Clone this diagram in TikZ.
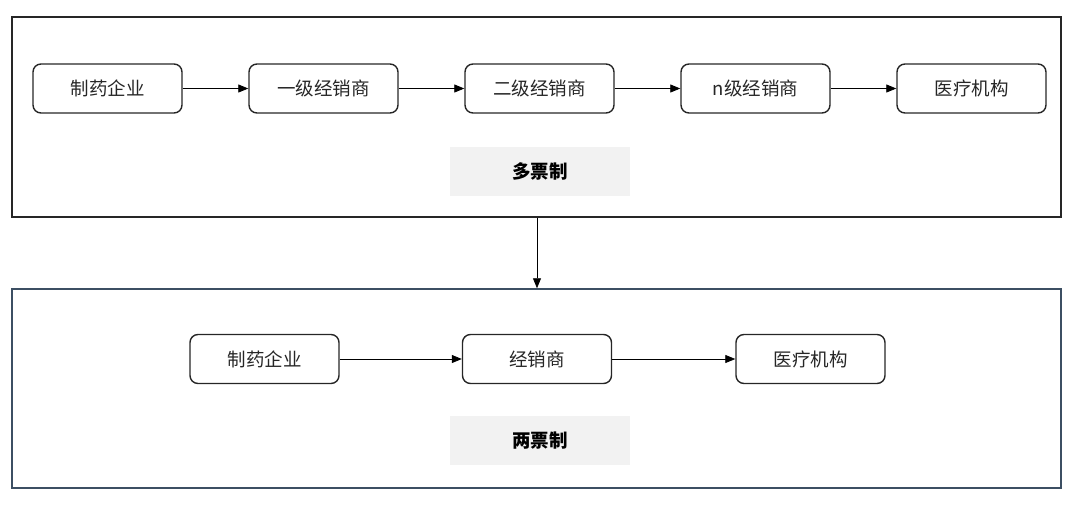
\documentclass[tikz,border=0pt]{standalone}
\usepackage{fontspec}
\setmainfont{Noto Sans CJK SC}
\usetikzlibrary{arrows.meta}
\definecolor{frameblue}{HTML}{3C4F63}
\definecolor{labelgray}{HTML}{F2F2F2}
\tikzset{
  box/.style={draw=black!85, line width=1.4pt, rounded corners=8pt, minimum width=149pt, minimum height=49pt, inner sep=0pt, font=\fontsize{18.5}{20}\selectfont, text=black!85},
  lbl/.style={fill=labelgray, minimum width=180pt, minimum height=49pt, inner sep=0pt, font=\fontsize{18.5}{20}\selectfont\bfseries},
  frame/.style={line width=1.5pt},
  conn/.style={-{Triangle[length=10pt,width=8pt]}, line width=0.8pt}
}
\begin{document}
\begin{tikzpicture}[x=1pt,y=-1pt]
\useasboundingbox (0,0) rectangle (1080,515);
\node[draw=black!85, frame, minimum width=1049pt, minimum height=200pt, inner sep=0pt] (top) at (536.5,117) {};
\node[draw=frameblue, frame, minimum width=1049pt, minimum height=199pt, inner sep=0pt] (bot) at (536.5,388.5) {};
\node[box] (a1) at (107.5,88.5) {制药企业};
\node[box] (a2) at (323.5,88.5) {一级经销商};
\node[box] (a3) at (539.5,88.5) {二级经销商};
\node[box] (a4) at (755.5,88.5) {n级经销商};
\node[box] (a5) at (971.5,88.5) {医疗机构};
\node[lbl] (l1) at (540,171.5) {多票制};
\node[box] (b1) at (264.5,359) {制药企业};
\node[box] (b2) at (537,359) {经销商};
\node[box] (b3) at (810.5,359) {医疗机构};
\node[lbl] (l2) at (540,440.5) {两票制};
\draw[conn] (a1) -- (a2);
\draw[conn] (a2) -- (a3);
\draw[conn] (a3) -- (a4);
\draw[conn] (a4) -- (a5);
\draw[conn] (b1) -- (b2);
\draw[conn] (b2) -- (b3);
\coordinate (t) at (top.south -| 537,0);
\coordinate (u) at (bot.north -| 537,0);
\draw[conn] (t) -- (u);
\end{tikzpicture}
\end{document}
